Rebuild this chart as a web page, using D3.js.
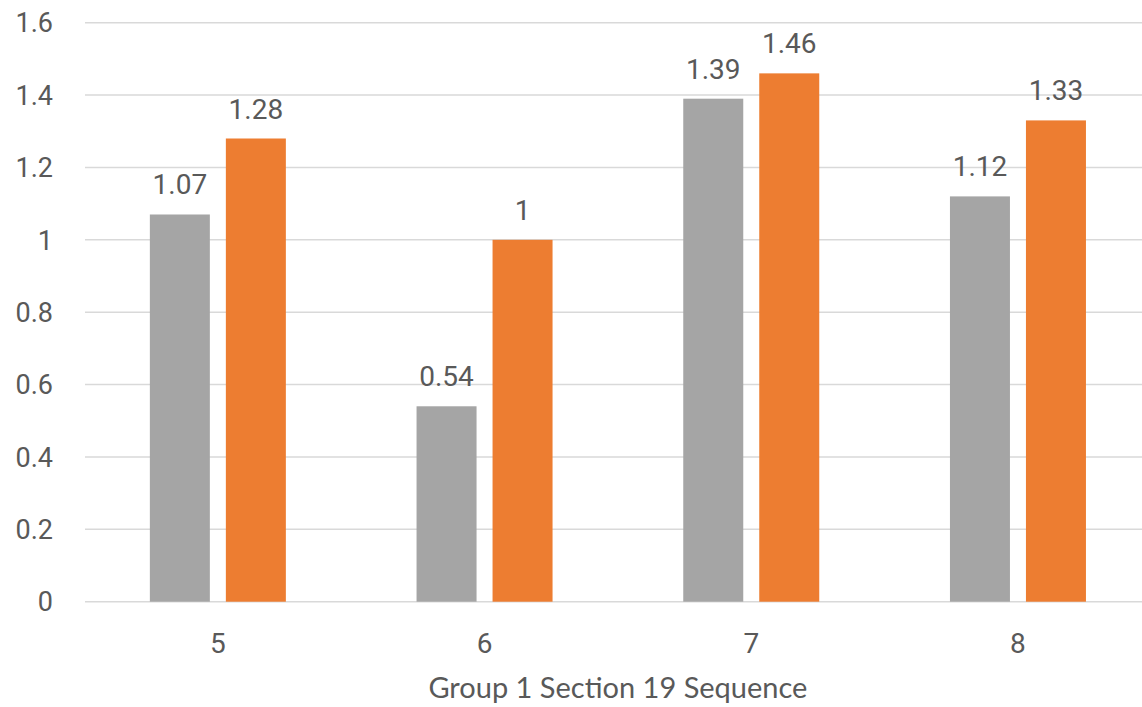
<!DOCTYPE html>
<html><head><meta charset="utf-8">
<script src="https://cdn.jsdelivr.net/npm/d3@7"></script>
<style>
html,body{margin:0;padding:0;background:#fff;overflow:hidden}
text{font-family:Roboto,"Open Sans",sans-serif;fill:#595959;font-weight:400}
text.title{font-family:Lato,"Open Sans",sans-serif}
</style></head>
<body>
<svg id="chart" width="1142" height="707"></svg>
<script>
const categories = ["5","6","7","8"];
const seriesNames = ["A","B"];
const seriesA = [1.07, 0.54, 1.39, 1.12];
const seriesB = [1.28, 1.00, 1.46, 1.33];
const yTicks = [0,0.2,0.4,0.6,0.8,1,1.2,1.4,1.6];
const colors = ["#A5A5A5","#ED7D31"];
const xTitle = "Group 1 Section 19 Sequence";

const svg = d3.select("#chart");
const x = d3.scaleBand().domain(categories).range([84.5, 1151.3]).paddingInner(0).paddingOuter(0);
const y = d3.scaleLinear().domain([0,1.6]).range([601.7, 22.7]);
const barW = 60, gap = 16;

// gridlines
svg.append("g").selectAll("line").data(yTicks).join("line")
  .attr("x1", 85).attr("x2", 1142)
  .attr("y1", d=>y(d)).attr("y2", d=>y(d))
  .attr("stroke", "#D9D9D9").attr("stroke-width", 1.5);

// y labels
svg.append("g").selectAll("text").data(yTicks).join("text")
  .attr("x", 53).attr("y", d=>y(d)).attr("text-anchor","end")
  .attr("dy","0.36em").style("font-size","27px")
  .text(d=>d3.format("")(+d.toFixed(1)));

const data = categories.map((c,i)=>({c, vals:[seriesA[i], seriesB[i]]}));
const groupOffset = (x.bandwidth() - (2*barW+gap))/2;

const g = svg.append("g").selectAll("g").data(data).join("g")
  .attr("transform", d=>`translate(${x(d.c)+groupOffset},0)`);

g.selectAll("rect").data(d=>d.vals.map((v,j)=>({v,j}))).join("rect")
  .attr("x", d=>d.j*(barW+gap)).attr("width", barW)
  .attr("y", d=>y(d.v)).attr("height", d=>y(0)-y(d.v))
  .attr("fill", d=>colors[d.j]);

g.selectAll("text").data(d=>d.vals.map((v,j)=>({v,j}))).join("text")
  .attr("x", d=>d.j*(barW+gap)+barW/2).attr("y", d=>y(d.v)-20)
  .attr("text-anchor","middle").style("font-size","28px")
  .text(d=>d3.format("")(d.v));

// x labels
svg.append("g").selectAll("text").data(categories).join("text")
  .attr("x", d=>x(d)+x.bandwidth()/2).attr("y", 653)
  .attr("text-anchor","middle").style("font-size","28px").text(d=>d);

svg.append("text").attr("class","title").attr("x", (84.5+1151.3)/2).attr("y", 698)
  .attr("text-anchor","middle").style("font-size","29px").text(xTitle);
</script>
</body></html>
